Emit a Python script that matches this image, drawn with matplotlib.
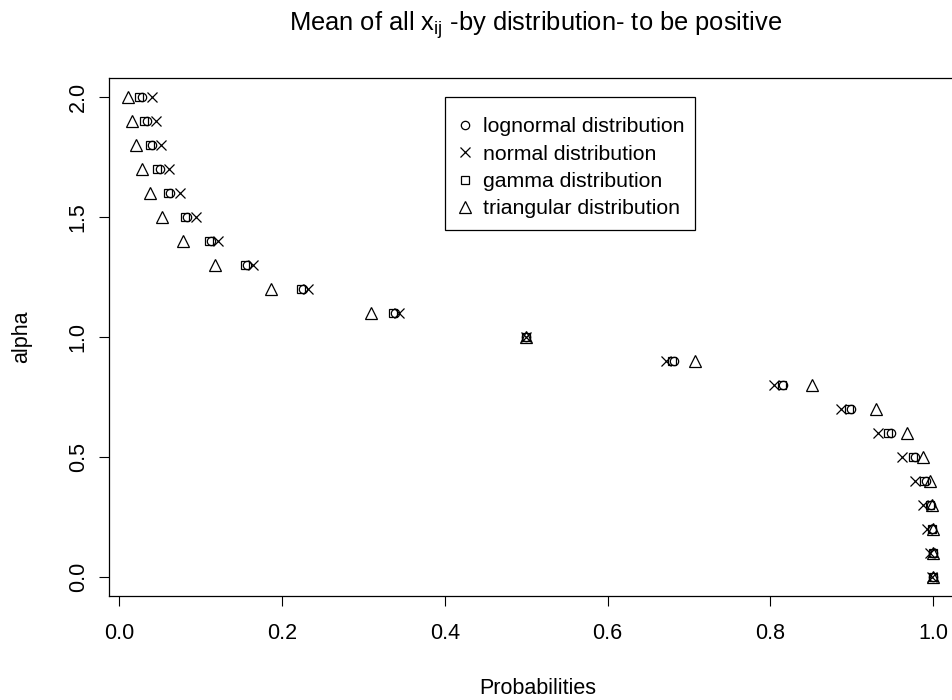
import matplotlib
matplotlib.use("Agg")
import matplotlib.pyplot as plt
from matplotlib.patches import Rectangle

plt.rcParams["font.family"] = ["Liberation Sans", "DejaVu Sans"]
plt.rcParams["mathtext.default"] = "regular"

alpha = [2.0, 1.9, 1.8, 1.7, 1.6, 1.5, 1.4, 1.3, 1.2, 1.1, 1.0,
         0.9, 0.8, 0.7, 0.6, 0.5, 0.4, 0.3, 0.2, 0.1, 0.0]

lognormal = [0.028, 0.034, 0.041, 0.050, 0.063, 0.083, 0.113, 0.157, 0.226, 0.339, 0.500,
             0.681, 0.816, 0.899, 0.948, 0.977, 0.991, 0.997, 0.999, 1.000, 1.000]
normal = [0.041, 0.046, 0.052, 0.062, 0.075, 0.094, 0.122, 0.165, 0.232, 0.344, 0.500,
          0.672, 0.804, 0.887, 0.932, 0.962, 0.977, 0.987, 0.992, 0.996, 0.999]
gamma = [0.025, 0.031, 0.038, 0.047, 0.060, 0.081, 0.111, 0.155, 0.224, 0.337, 0.500,
         0.679, 0.814, 0.897, 0.945, 0.975, 0.989, 0.996, 0.999, 1.000, 1.000]
triangular = [0.011, 0.016, 0.021, 0.028, 0.038, 0.053, 0.079, 0.118, 0.187, 0.310, 0.500,
              0.708, 0.851, 0.930, 0.968, 0.988, 0.996, 0.999, 1.000, 1.000, 1.000]

series = [
    ("lognormal distribution", lognormal, "o", 6.0),
    ("normal distribution", normal, "x", 7.5),
    ("gamma distribution", gamma, "s", 6.2),
    ("triangular distribution", triangular, "^", 8.0),
]

W, H = 953, 700
fig = plt.figure(figsize=(W / 100, H / 100), dpi=100)
L, R, T, B = 109, 965, 78, 596
ax = fig.add_axes([L / W, 1 - B / H, (R - L) / W, (B - T) / H])

for name, vals, mk, ms in series:
    ax.plot(vals, alpha, linestyle="none", marker=mk, markersize=ms,
            markerfacecolor="none", markeredgecolor="black",
            markeredgewidth=0.9, color="black", label=name, clip_on=False)

ax.set_xlim(-0.0123, 1.039)
ax.set_ylim(-0.08, 2.08)
ax.set_xticks([0.0, 0.2, 0.4, 0.6, 0.8, 1.0])
ax.set_xticklabels(["0.0", "0.2", "0.4", "0.6", "0.8", "1.0"], fontsize=15.5)
ax.set_yticks([0.0, 0.5, 1.0, 1.5, 2.0])
ax.set_yticklabels(["0.0", "0.5", "1.0", "1.5", "2.0"], fontsize=15.5,
                   rotation=90, va="center")
ax.tick_params(axis="x", direction="out", length=7.5, width=0.8, pad=12)
ax.tick_params(axis="y", direction="out", length=7.5, width=0.8, pad=7)
for s in ax.spines.values():
    s.set_linewidth(0.9)

fig.text(537.5 / W, 1 - 689 / H, "Probabilities", fontsize=15.5,
         ha="center", va="center")
fig.text(22 / W, 1 - 337 / H, "alpha", fontsize=15.5, rotation=90,
         ha="center", va="center")
fig.text(536 / W, 1 - 31 / H, "Mean of all x$_{ij}$ -by distribution- to be positive",
         fontsize=18.4, ha="center", va="baseline")

# legend box drawn separately, entries without frame
fig.patches.append(Rectangle((445 / W, 1 - 230 / H), 250 / W, 133 / H,
                             transform=fig.transFigure, fill=False,
                             edgecolor="black", linewidth=0.9))
leg = ax.legend(loc="upper left", bbox_to_anchor=(454.5 / W, 1 - 117.5 / H),
                bbox_transform=fig.transFigure, borderaxespad=0, borderpad=0,
                fontsize=15.3, frameon=False, handlelength=1.0,
                handletextpad=0.35, labelspacing=0.39, numpoints=1)

fig.savefig("out.png", dpi=100)
